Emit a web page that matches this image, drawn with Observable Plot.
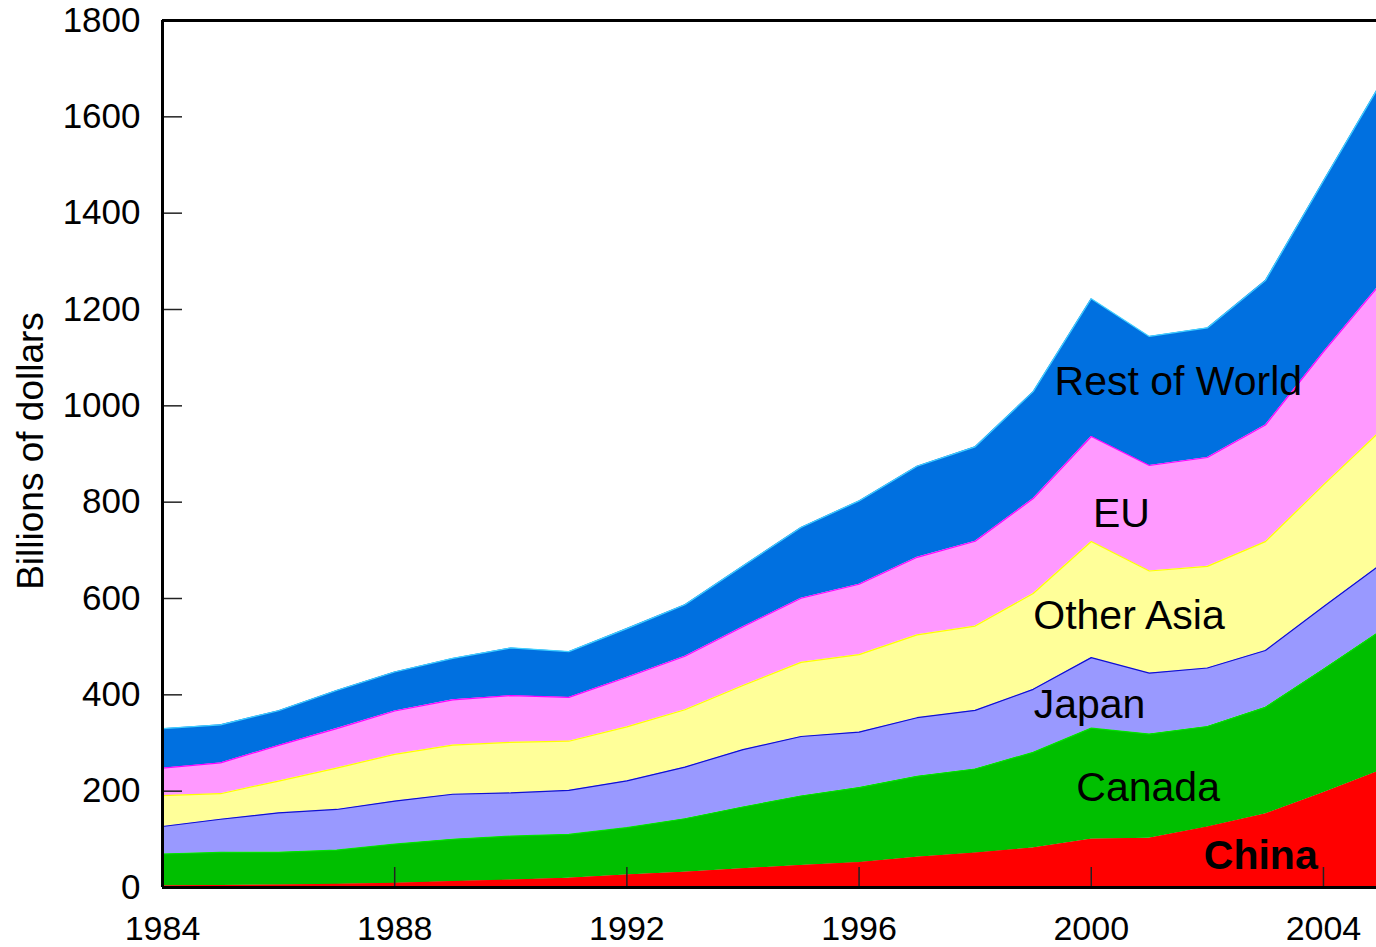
<!DOCTYPE html>
<html>
<head>
<meta charset="utf-8">
<script src="https://cdn.jsdelivr.net/npm/d3@7"></script>
<script src="https://cdn.jsdelivr.net/npm/@observablehq/plot@0.6"></script>
<style>
  html, body { margin: 0; padding: 0; background: #ffffff; overflow: hidden; }
</style>
</head>
<body>
<div id="chart"></div>
<script>
// ---- Data (billions of dollars) ----
const years = [1984, 1985, 1986, 1987, 1988, 1989, 1990, 1991, 1992, 1993, 1994,
               1995, 1996, 1997, 1998, 1999, 2000, 2001, 2002, 2003, 2004, 2005];
const seriesNames = ["China", "Canada", "Japan", "Other Asia", "EU", "Rest of World"];
const china       = [3.1, 3.9, 4.8, 6.3, 8.5, 12.0, 15.2, 19.0, 25.7, 31.5, 38.8,
                     45.6, 51.5, 62.6, 71.2, 81.8, 100.0, 102.3, 125.2, 152.4, 196.7, 243.5];
const canada      = [66.5, 69.0, 68.3, 71.1, 81.4, 88.0, 91.4, 91.1, 98.6, 111.2, 128.4,
                     144.4, 155.9, 168.2, 174.8, 198.7, 230.8, 216.3, 209.1, 221.6, 256.4, 290.4];
const japan       = [57.1, 68.8, 81.9, 84.6, 89.5, 93.6, 89.7, 91.6, 97.2, 107.3, 119.2,
                     123.5, 115.2, 121.7, 121.8, 130.9, 146.5, 126.5, 121.4, 118.0, 129.8, 138.1];
const otherAsia   = [64, 53, 66, 86, 97, 102, 105, 102, 112, 119, 133,
                     154, 161, 172, 175, 199, 241, 212, 211, 226, 253, 278];
const eu          = [57, 64, 74, 82, 90, 94, 97, 91, 103, 111, 122,
                     133, 146, 161, 176, 197, 218, 219, 226, 242, 276, 306];
const restOfWorld = [82, 79, 72, 79, 81, 86, 99, 95, 101, 107, 126,
                     147, 173, 189, 196, 222, 286, 268, 269, 300, 355, 416];

const fillColors = ["#ff0000", "#00bf00", "#9999ff", "#ffff99", "#ff99ff", "#0070e0"];
const lineColors = ["#ff0000", "#00e000", "#1010d0", "#ffff00", "#ff00ff", "#40d0ff"];

// label positions (year, value) in data units
const labelYears  = [2002.92, 2000.98, 1999.97, 2000.65, 2000.52, 2001.5];
const labelValues = [39, 180, 351, 537, 748, 1023];

const yTicks = [0, 200, 400, 600, 800, 1000, 1200, 1400, 1600, 1800];
const xTicks = [1984, 1988, 1992, 1996, 2000, 2004];
const yTitle = "Billions of dollars";

// ---- Build long table ----
const valuesBySeries = [china, canada, japan, otherAsia, eu, restOfWorld];
const data = seriesNames.flatMap((s, i) =>
  years.map((yr, j) => ({year: yr, series: s, value: valuesBySeries[i][j]})));
const fillOf = Object.fromEntries(seriesNames.map((s, i) => [s, fillColors[i]]));
const lineOf = Object.fromEntries(seriesNames.map((s, i) => [s, lineColors[i]]));
const labels = seriesNames.map((s, i) => ({name: s, year: labelYears[i], value: labelValues[i]}));

const W = 1376, H = 947;
const mL = 162, mT = 20, mB = 60, mR = 0;
const frameH = H - mT - mB;

const chart = Plot.plot({
  width: W,
  height: H,
  marginLeft: mL,
  marginRight: mR,
  marginTop: mT,
  marginBottom: mB,
  style: {fontFamily: "'Liberation Sans', Arial, sans-serif", background: "#ffffff", color: "#000000"},
  x: {domain: [1984, 2005], range: [mL, 1381]},
  y: {domain: [0, 1800]},
  color: {type: "identity"},
  marks: [
    Plot.areaY(data, {
      x: "year", y: "value", z: "series", order: seriesNames,
      fill: d => fillOf[d.series]
    }),
    Plot.lineY(data, Plot.stackY2({
      x: "year", y: "value", z: "series", order: seriesNames,
      stroke: d => lineOf[d.series], strokeWidth: 1.2
    })),
    // inward ticks
    Plot.tickY(yTicks.slice(1, -1), {y: d => d, insetRight: W - mL - mR - 20, stroke: "#222", strokeWidth: 1.5}),
    Plot.tickX(xTicks.slice(1), {x: d => d, insetTop: frameH - 20, stroke: "#222", strokeWidth: 1.5}),
    // frame
    Plot.ruleX([1984], {stroke: "#000", strokeWidth: 3}),
    Plot.ruleY([0, 1800], {stroke: "#000", strokeWidth: 3}),
    // axes labels
    Plot.axisY({ticks: yTicks, tickSize: 0, tickPadding: 22, fontSize: 35, label: null, tickFormat: d => String(d)}),
    Plot.axisX({ticks: xTicks, tickSize: 0, tickPadding: 28, fontSize: 34, label: null, tickFormat: d => String(d)}),
    // series labels
    Plot.text(labels.filter(d => d.name !== "China"), {
      x: "year", y: "value", text: "name", fontSize: 41, lineAnchor: "bottom", textAnchor: "middle", fill: "#000"
    }),
    Plot.text(labels.filter(d => d.name === "China"), {
      x: "year", y: "value", text: "name", fontSize: 41, fontWeight: "bold", lineAnchor: "bottom", textAnchor: "middle", fill: "#000"
    }),
    // y title
    Plot.text([yTitle], {
      frameAnchor: "left", rotate: -90, dx: -120, dy: -3, lineAnchor: "bottom", textAnchor: "middle", fontSize: 37, fill: "#000"
    })
  ]
});
document.getElementById("chart").appendChild(chart);
</script>
</body>
</html>
